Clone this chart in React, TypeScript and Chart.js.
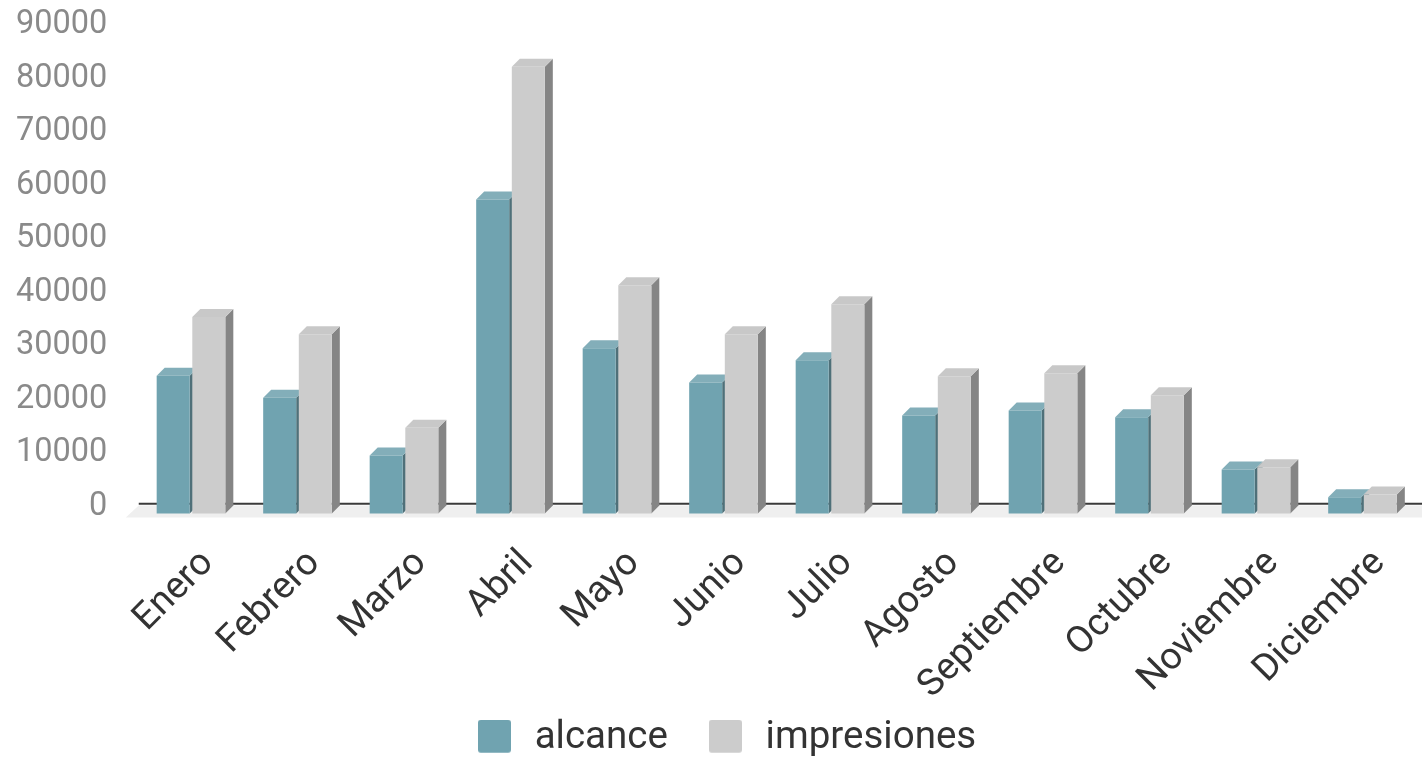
import React, { useEffect, useRef } from "react";
import { Chart, registerables } from "chart.js";

Chart.register(...registerables);

const months = ["Enero", "Febrero", "Marzo", "Abril", "Mayo", "Junio", "Julio", "Agosto", "Septiembre", "Octubre", "Noviembre", "Diciembre"];
const alcance = [25770, 21650, 10850, 58700, 30900, 24500, 28630, 18340, 19270, 18000, 8230, 3050];
const impresiones = [36730, 33500, 16040, 83500, 42660, 33500, 39100, 25640, 26200, 22080, 8660, 3555];
const yTicks = [0, 10000, 20000, 30000, 40000, 50000, 60000, 70000, 80000, 90000];

const DEPTH = 8;
const ALCANCE = { front: "#70A3B0", top: "#83AEB9", side: "#4F7079" };
const IMPRESIONES = { front: "#CCCCCC", top: "#C8C8C8", side: "#858585" };
const faces = [ALCANCE, IMPRESIONES];

function swatch(color: string) {
  const c = document.createElement("canvas");
  c.width = 33;
  c.height = 37;
  const g = c.getContext("2d")!;
  g.fillStyle = color;
  g.beginPath();
  g.roundRect(0, 0, 33, 33, 3);
  g.fill();
  return c;
}

const poly = (ctx: CanvasRenderingContext2D, color: string, pts: number[][]) => {
  ctx.fillStyle = color;
  ctx.beginPath();
  pts.forEach(([x, y], i) => (i ? ctx.lineTo(x, y) : ctx.moveTo(x, y)));
  ctx.closePath();
  ctx.fill();
};

const bars3d = {
  id: "bars3d",
  afterLayout(chart: any) {
    // the reference's legend is centred a little right of the canvas centre
    chart.legend.left += 27.6;
    // long rotated labels run lower than the axis box
    chart.scales.x.bottom += 25;
  },
  beforeDatasetsDraw(chart: any) {
    const ctx: CanvasRenderingContext2D = chart.ctx;
    const zero = chart.scales.y.getPixelForValue(0);
    ctx.save();
    // floor
    poly(ctx, "#EFEFEF", [
      [chart.chartArea.left - 12, zero + 4],
      [chart.chartArea.left + 1, zero - 8],
      [chart.width, zero - 8],
      [chart.width, zero + 4],
    ]);
    // axis line
    ctx.strokeStyle = "#3A3A3A";
    ctx.lineWidth = 2;
    ctx.beginPath();
    ctx.moveTo(chart.chartArea.left + 1, zero - 9.7);
    ctx.lineTo(chart.width, zero - 9.7);
    ctx.stroke();
    // depth faces
    chart.data.datasets.forEach((_: any, di: number) => {
      const f = faces[di];
      chart.getDatasetMeta(di).data.forEach((bar: any) => {
        const l = bar.x - bar.width / 2;
        const r = bar.x + bar.width / 2;
        poly(ctx, f.side, [
          [r, bar.y],
          [r + DEPTH, bar.y - DEPTH],
          [r + DEPTH, bar.base - DEPTH],
          [r, bar.base],
        ]);
        poly(ctx, f.top, [
          [l, bar.y],
          [l + DEPTH, bar.y - DEPTH],
          [r + DEPTH, bar.y - DEPTH],
          [r, bar.y],
        ]);
      });
    });
    ctx.restore();
  },
};

export default function App() {
  const ref = useRef<HTMLCanvasElement>(null);
  useEffect(() => {
    const swatches = [swatch(ALCANCE.front), swatch(IMPRESIONES.front)];
    const chart = new Chart(ref.current!, {
      type: "bar",
      data: {
        labels: months,
        datasets: [
          { label: "alcance", data: alcance, backgroundColor: ALCANCE.front },
          { label: "impresiones", data: impresiones, backgroundColor: IMPRESIONES.front },
        ],
      },
      plugins: [bars3d],
      options: {
        animation: false,
        responsive: false,
        devicePixelRatio: 1,
        layout: { padding: { left: 6.25, right: 6.25, top: 32, bottom: -8.5 } },
        datasets: { bar: { categoryPercentage: 0.669, barPercentage: 0.927, clip: false } },
        scales: {
          x: {
            grid: { display: false },
            border: { display: false },
            ticks: {
              autoSkip: false,
              minRotation: 45,
              maxRotation: 45,
              padding: 20,
              labelOffset: 17,
              color: "#333333",
              font: { family: "Roboto", size: 37.5 },
            },
            afterFit(s: any) {
              s.height = 169;
              s.paddingLeft = 0;
              s.paddingRight = 0;
            },
          },
          y: {
            min: 0,
            max: 90000,
            afterBuildTicks(s: any) {
              s.ticks = yTicks.map((value) => ({ value }));
            },
            grid: { display: false, drawTicks: false },
            border: { display: false },
            ticks: {
              padding: 30.5,
              labelOffset: -7,
              color: "#8A8A8A",
              font: { family: "Roboto", size: 32.5 },
              callback: (v: any) => String(v),
            },
            afterFit(s: any) {
              s.width = 131.5;
              s.paddingTop = 0;
              s.paddingBottom = 0;
            },
          },
        },
        plugins: {
          title: { display: false },
          tooltip: { enabled: false },
          legend: {
            position: "bottom",
            labels: {
              usePointStyle: true,
              pointStyleWidth: 42,
              padding: 36.5,
              color: "#333333",
              font: { family: "Roboto", size: 38.5 },
              generateLabels(c: any) {
                const items = Chart.defaults.plugins.legend.labels.generateLabels(c);
                items.forEach((it: any, i: number) => (it.pointStyle = swatches[i]));
                return items;
              },
            },
          },
        },
      } as any,
    });
    return () => chart.destroy();
  }, []);
  return (
    <canvas
      ref={ref}
      width={1422}
      height={759}
      style={{ position: "fixed", left: 0, top: 0, display: "block", width: 1422, height: 759 }}
    />
  );
}
